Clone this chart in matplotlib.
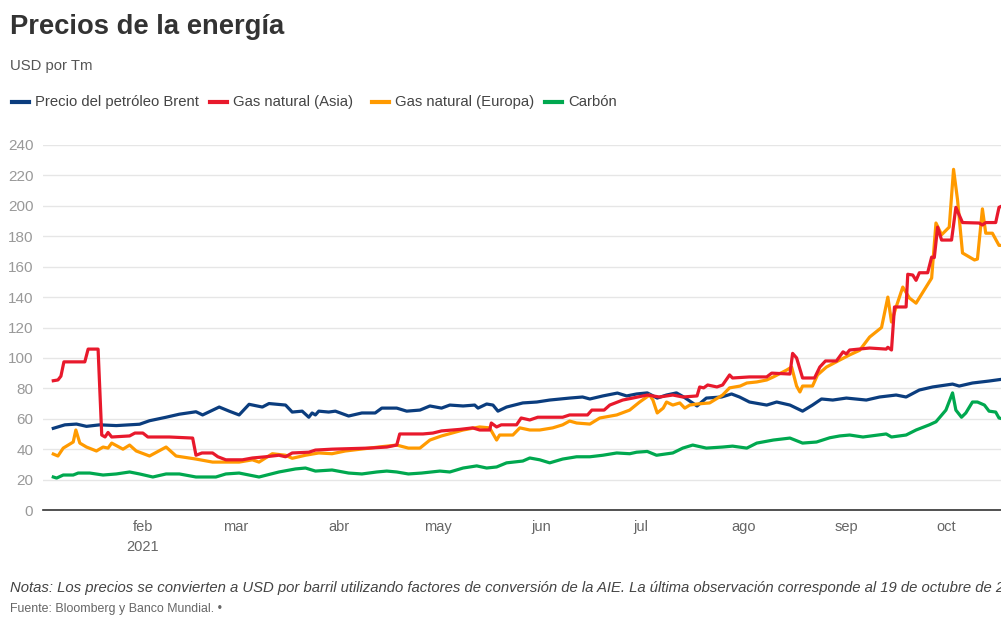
"""
Precios de la energía, USD por Tm (2021)
Brent, gas natural Asia/Europa y carbón
"""

import pandas as pd
import matplotlib
matplotlib.use('Agg')
import matplotlib.pyplot as plt
from matplotlib.lines import Line2D

plt.rcParams['font.family'] = ['Liberation Sans', 'DejaVu Sans']

# ── Data (days after 1 Jan 2021, USD por Tm) ───────────────────────────
START = pd.Timestamp('2021-01-01')

BRENT_DAYS = [4, 7.5, 11, 14, 18, 23, 30, 33, 38, 42, 47, 49, 54, 57, 60, 63, 67, 69,
              74, 76, 79, 81, 82, 83, 84, 87, 89, 93, 97, 101, 103, 107.5, 110.5,
              114.5, 117.5, 121, 123.5, 127.5, 131, 132, 134.6, 136.5, 138, 140.6,
              145.5, 149.7, 153.6, 159.6, 163.5, 165.7, 169.6, 174, 176.8, 179.8,
              183, 186, 188.8, 191.8, 194, 198, 200.8, 205.4, 208.4, 210.8, 213.8,
              219, 222, 226, 229.8, 232.8, 235.5, 238.9, 243, 249, 253, 258, 261,
              265, 269, 275, 277, 281, 286, 290]
BRENT = [53.7, 56, 56.5, 55, 56, 55.5, 56.4, 58.7, 61, 63, 64.6, 62.5, 67.7, 65, 62.5,
         69.5, 67.7, 70, 69, 64.4, 65, 61, 63.8, 62.5, 65, 64.4, 65, 61.8, 63.8, 63.8,
         67, 67, 65, 65.7, 68.4, 67, 69, 68.4, 69, 67, 69.7, 69, 65, 67.7, 70.4, 71,
         72.3, 73.6, 74.3, 73, 75, 76.9, 75, 76.3, 77, 73.6, 75.6, 77, 74.3, 68.4,
         73.6, 74.3, 76.3, 74.3, 71, 69, 71, 69, 65, 69, 73, 72.3, 73.6, 72.3, 74.3,
         75.6, 74.3, 78.9, 80.9, 82.8, 81.5, 83.5, 84.8, 86]

ASIA_DAYS = [4, 5.4, 6.3, 7.2, 13.5, 14.5, 17.5, 18.6, 19.6, 20.5, 21.6, 27, 28.6, 31,
             32.5, 39, 46, 47, 48.8, 52, 53.6, 56, 61, 64, 68, 72, 74, 76, 81, 83, 88,
             99, 104.5, 107.5, 108.4, 115.4, 118.4, 121, 126.5, 130.4, 132.5, 135.5,
             136, 137.6, 139, 143.6, 145, 147.6, 150, 157.5, 159.6, 165, 166.3, 170,
             171.7, 175.6, 178.6, 183, 186.7, 190.7, 193.7, 198, 198.8, 200, 201.2,
             204, 205.7, 207.8, 208.7, 213.8, 219, 220.5, 226, 226.8, 228, 229.8,
             233.4, 235, 236.7, 240, 241, 242, 243, 244, 250, 255, 255.5, 256.6,
             257.5, 261, 261.5, 263, 264, 265, 267.5, 268.7, 269.5, 270.5, 271.7,
             274.7, 276, 278, 283, 284, 285, 288, 289, 290]
ASIA = [85, 85.5, 88, 97.4, 97.4, 105.8, 105.8, 49.3, 48, 51, 48, 48.7, 50.6, 50.6, 48,
        48, 47.3, 36, 37.5, 37.5, 35, 33, 33, 34.2, 35, 36, 35, 37.5, 38, 39.4, 40,
        40.7, 41.4, 42.7, 50, 50, 50.6, 52, 53, 54, 52.6, 52.6, 57.2, 54.6, 56, 56,
        60.5, 59.2, 61, 61, 62.5, 62.5, 65.7, 65.7, 69, 72.3, 73.6, 75.6, 74.3, 75.6,
        74.3, 75, 80.9, 80.3, 82.2, 80.9, 82.2, 88.8, 86.8, 87.5, 87.5, 90, 89.4, 103,
        100, 86.8, 86.8, 94, 98, 98, 101, 104, 102.6, 105.2, 106.5, 105.8, 107, 105.2,
        133.5, 133.5, 155, 154.5, 151, 156, 156, 166.3, 166, 186, 177.5, 177.5, 199,
        189, 188.7, 187.4, 189, 189, 199, 200]

EUROPA_DAYS = [4, 5.4, 7, 10, 10.8, 12, 14, 17, 19, 20.5, 21.6, 25, 27, 29, 33, 38, 41,
               47, 52, 60, 64, 66, 70, 74, 76, 80, 84, 88, 92, 102, 107.5, 111, 114.5,
               117.5, 121, 127.5, 132.5, 135.5, 137.6, 138.5, 142.5, 144.6, 147.6,
               150.6, 154.5, 157.5, 159.6, 161.7, 165.7, 168.7, 173.8, 177.7, 180.7,
               183.7, 184.7, 186, 187.8, 188.8, 190.7, 192.8, 194.3, 195.8, 198,
               201.8, 205.7, 207.8, 211, 213, 216, 219, 221, 225, 226.5, 228, 229,
               229.8, 232.8, 234.3, 237, 241, 244, 247, 250, 253.6, 255.5, 256.6, 258,
               260, 262, 264, 268.7, 270, 271.7, 274, 275.3, 276.5, 278, 281.6, 282.5,
               284, 285, 287, 289, 290]
EUROPA = [36.8, 35.5, 40.7, 44.7, 52.6, 44, 41.4, 38.8, 41.4, 40.7, 44, 40, 42.7, 38.8,
          35.5, 41.4, 35.5, 33.5, 31.5, 31.5, 33, 31.5, 37, 36, 34, 36, 37.5, 37, 38.8,
          41.4, 42.7, 40.7, 40.7, 46, 48.7, 52.6, 54.6, 54, 46, 49.3, 49.3, 54, 52.6,
          52.6, 54, 56, 58.5, 57.2, 56.5, 60.5, 62.5, 65.7, 71, 75.6, 72.3, 63.8, 67,
          71, 69, 70.4, 67, 69, 69.7, 70.4, 75.6, 80.3, 81.5, 83.5, 84.2, 85.5, 87.5,
          92, 94, 81.5, 77.6, 81.5, 81.5, 88.8, 94, 98.6, 102, 105, 113.7, 120, 140,
          123.6, 133.5, 146.6, 139.4, 136, 152.5, 188.7, 181, 186, 224, 204, 169,
          164.4, 165, 198, 182, 182, 174, 174]

CARBON_DAYS = [4, 5, 7, 10, 11.5, 15, 19, 23, 27, 30, 34, 38, 42, 47, 53, 56, 60, 66, 72,
               77, 80, 83, 88, 93, 97, 101.5, 104.5, 107.5, 111, 115, 120.5, 123.5,
               127.5, 131.6, 134.6, 137.6, 140.6, 145.5, 147.6, 150.6, 153.6, 157.5,
               161.7, 165.7, 169.6, 173.8, 177.7, 179.8, 183, 185.8, 190.7, 193.7,
               196.7, 200.8, 205.7, 208.7, 213, 216, 221, 226, 229.8, 234, 238, 241,
               244, 248, 255, 256.6, 261, 264, 268, 270, 273, 275, 276, 277.7, 279,
               281, 282.5, 284.6, 286, 288, 289, 290]
CARBON = [21.7, 21, 23, 23, 24.3, 24.3, 23, 23.7, 25, 23.7, 21.7, 23.7, 23.7, 21.7, 21.7,
          23.7, 24.3, 21.7, 25, 27, 27.6, 25.6, 26.3, 24.3, 23.7, 25, 25.6, 25, 23.7,
          24.3, 25.6, 25, 27.6, 29, 27.6, 28.3, 31, 32.2, 34.2, 33, 31, 33.5, 35, 35,
          36, 37.5, 37, 38, 38.5, 36, 37.5, 40.7, 42.7, 40.7, 41.4, 42, 40.7, 44, 46,
          47.3, 44, 44.7, 47.5, 48.7, 49.3, 48, 50, 48, 49.3, 52.6, 56, 58, 65.7, 77,
          65.7, 61, 63.8, 71, 71, 69, 65, 64.4, 60.5, 60]

SERIES = [
    ('Precio del petróleo Brent', BRENT_DAYS, BRENT, '#0b3d7e'),
    ('Gas natural (Asia)', ASIA_DAYS, ASIA, '#e8192c'),
    ('Gas natural (Europa)', EUROPA_DAYS, EUROPA, '#ff9a00'),
    ('Carbón', CARBON_DAYS, CARBON, '#00a84f'),
]

MONTH_LABELS = ['feb', 'mar', 'abr', 'may', 'jun', 'jul', 'ago', 'sep', 'oct']
Y_TICKS = list(range(0, 241, 20))


def to_dates(days):
    return START + pd.to_timedelta(days, unit='D')


# ── Figure ─────────────────────────────────────────────────────────────
fig = plt.figure(figsize=(10.01, 6.18), dpi=100)
fig.patch.set_facecolor('white')
ax = fig.add_axes([43 / 1001, 108 / 618, 958 / 1001, 365 / 618])

# Carbón underneath, gas lines on top as in the reference
for name, days, vals, color in [SERIES[3], SERIES[0], SERIES[2], SERIES[1]]:
    ax.plot(to_dates(days), vals, color=color, lw=2.3, solid_joinstyle='round',
            zorder=3)

ax.set_ylim(0, 240)
ax.set_yticks(Y_TICKS)
ax.set_xlim(START + pd.Timedelta(days=0.9), START + pd.Timedelta(days=289.6))

month_ticks = pd.date_range('2021-02-01', periods=len(MONTH_LABELS), freq='MS')
ax.set_xticks(month_ticks)
ax.set_xticklabels([m if m != 'feb' else 'feb\n2021' for m in MONTH_LABELS],
                   linespacing=1.6)

ax.grid(axis='y', color='#e6e6e6', lw=1.0, zorder=0)
ax.set_axisbelow(True)
for side in ['top', 'right', 'left']:
    ax.spines[side].set_visible(False)
ax.spines['bottom'].set_color('#333333')
ax.spines['bottom'].set_linewidth(1.2)
ax.tick_params(axis='y', length=0, pad=7, labelsize=11, labelcolor='#999999')
ax.tick_params(axis='x', length=0, pad=7, labelsize=10.5, labelcolor='#666666')

# ── Titles ─────────────────────────────────────────────────────────────
fig.text(10 / 1001, 1 - 27 / 618, 'Precios de la energía', fontsize=19.7,
         fontweight='bold', color='#333333', va='center', ha='left')
fig.text(10 / 1001, 1 - 66 / 618, 'USD por Tm', fontsize=10.7,
         color='#555555', va='center', ha='left')

# ── Legend row ─────────────────────────────────────────────────────────
legend_x = [12, 210, 372, 545]
ly = 1 - 102 / 618
for (name, _, _, color), x0 in zip(SERIES, legend_x):
    fig.add_artist(Line2D([x0 / 1001, (x0 + 17) / 1001], [ly, ly],
                          color=color, lw=3, transform=fig.transFigure))
    fig.text((x0 + 23) / 1001, ly, name, fontsize=10.7, color='#444444',
             va='center', ha='left')

# ── Notes (runs past the right edge, as in the source graphic) ─────────
fig.text(10 / 1001, 1 - 588 / 618,
         'Notas: Los precios se convierten a USD por barril utilizando factores de '
         'conversión de la AIE. La última observación corresponde al 19 de octubre de 2021.',
         fontsize=10.7, style='italic', color='#444444', va='center', ha='left')
fig.text(10 / 1001, 1 - 609 / 618, 'Fuente: Bloomberg y Banco Mundial. \u2022',
         fontsize=8.9, color='#666666', va='center', ha='left')

fig.savefig('out.png', dpi=100, facecolor='white')
